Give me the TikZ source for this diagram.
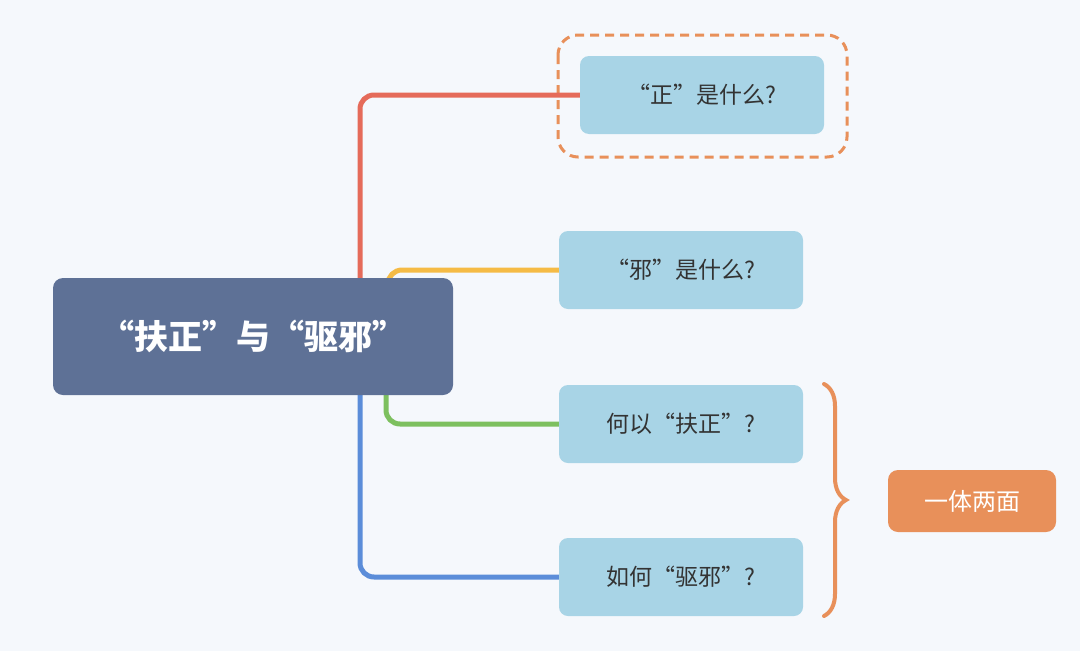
\documentclass[tikz,border=0pt]{standalone}
\usepackage{fontspec}
\setmainfont{Noto Sans CJK SC}
\usetikzlibrary{decorations.pathreplacing}
\definecolor{bg}{HTML}{F5F8FC}
\definecolor{rootc}{HTML}{5E7196}
\definecolor{kid}{HTML}{A8D4E6}
\definecolor{orng}{HTML}{E8905A}
\definecolor{redl}{HTML}{E56B5A}
\definecolor{yell}{HTML}{F5BB45}
\definecolor{grn}{HTML}{7DC05F}
\definecolor{blu}{HTML}{5B8DD9}
\tikzset{
 kidbox/.style={fill=kid,rounded corners=9pt,minimum width=244pt,minimum height=78pt,font=\fontsize{23}{26}\selectfont,text=black!80},
 branch/.style={line width=5pt,rounded corners=14pt}
}
\begin{document}
\begin{tikzpicture}[x=1pt,y=-1pt]
\fill[bg] (0,0) rectangle (1080,651);
\useasboundingbox (0,0) rectangle (1080,651);
\draw[orng,line width=3pt,dashed,dash pattern=on 9pt off 6pt,rounded corners=20pt,fill=bg] (558,35) rectangle (847,157);
\node[kidbox] (c1) at (702,95) {“正”是什么?};
\node[kidbox] (c2) at (681,270) {“邪”是什么?};
\node[kidbox] (c3) at (681,424) {何以“扶正”?};
\node[kidbox] (c4) at (681,577) {如何“驱邪”?};
\coordinate (r1) at (360,280);
\coordinate (r2) at (388,280);
\coordinate (r3) at (386,393);
\coordinate (r4) at (360,393);
\draw[branch,redl] (r1) |- (c1.west);
\draw[branch,yell] (r2) |- (c2.west);
\draw[branch,grn] (r3) |- (c3.west);
\draw[branch,blu] (r4) |- (c4.west);
\node[fill=rootc,rounded corners=10pt,minimum width=400pt,minimum height=117pt,text=white,font=\fontsize{34}{38}\selectfont\bfseries] (root) at (253,336.5) {“扶正”与“驱邪”};
\node[fill=orng,rounded corners=10pt,minimum width=168pt,minimum height=62pt,text=white,font=\fontsize{24}{28}\selectfont] (sum) at (972,501) {一体两面};
\coordinate (b1) at (824,384);
\coordinate (b2) at (824,616);
\draw[orng,line width=4pt,line cap=round,decorate,decoration={brace,amplitude=22pt,aspect=0.5}] (b1) -- (b2);
\end{tikzpicture}
\end{document}
